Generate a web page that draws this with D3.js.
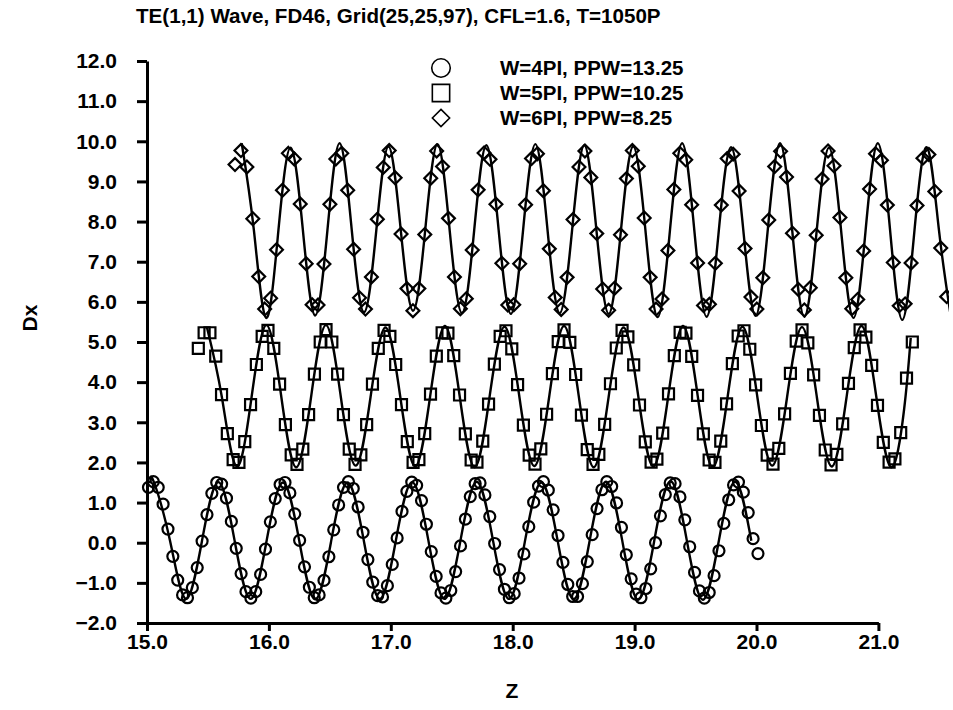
<!DOCTYPE html>
<html>
<head>
<meta charset="utf-8">
<script src="https://cdn.jsdelivr.net/npm/d3@7/dist/d3.min.js"></script>
<style>
  body { margin: 0; background: #fff; }
  text { font-family: "Liberation Sans", Arial, Helvetica, sans-serif; font-weight: bold; fill: #000; }
</style>
</head>
<body>
<svg id="chart" width="953" height="710"></svg>
<script>
// TE(1,1) wave, Dx along z for three frequencies

const titleText = 'TE(1,1) Wave, FD46, Grid(25,25,97), CFL=1.6, T=1050P';
const xTicks = [15, 16, 17, 18, 19, 20, 21];
const yTicks = [-2, -1, 0, 1, 2, 3, 4, 5, 6, 7, 8, 9, 10, 11, 12];
const seriesNames = ['W=4PI, PPW=13.25', 'W=5PI, PPW=10.25', 'W=6PI, PPW=8.25'];

// marker grids (z of first marker, z step)
const circleZ0 = 15.012, circleDz = 0.0400;
const squareZ0 = 15.421, squareDz = 0.04762;
const diamondZ0 = 15.722, diamondDz = 0.04865;

const circleDx = [
  1.38, 1.52, 1.38, 0.96, 0.34, -0.34, -0.93, -1.30, -1.37, -1.12, -0.62, 0.04, 0.70, 1.23, 1.50, 1.46,
  1.11, 0.53, -0.14, -0.77, -1.22, -1.38, -1.22, -0.79, -0.16, 0.52, 1.10, 1.45, 1.50, 1.24, 0.72, 0.06,
  -0.60, -1.11, -1.37, -1.30, -0.94, -0.35, 0.32, 0.94, 1.38, 1.52, 1.35, 0.89, 0.26, -0.42, -0.98, -1.32,
  -1.35, -1.07, -0.54, 0.12, 0.78, 1.28, 1.51, 1.43, 1.05, 0.46, -0.22, -0.84, -1.25, -1.38, -1.19, -0.72,
  -0.08, 0.59, 1.15, 1.47, 1.49, 1.19, 0.65, -0.02, -0.67, -1.16, -1.37, -1.27, -0.88, -0.28, 0.40, 1.01,
  1.41, 1.52, 1.31, 0.82, 0.18, -0.49, -1.04, -1.34, -1.34, -1.02, -0.47, 0.20, 0.85, 1.32, 1.52, 1.40,
  0.99, 0.38, -0.30, -0.90, -1.28, -1.37, -1.14, -0.65, 0.00, 0.67, 1.20, 1.49, 1.47, 1.14, 0.57, -0.10,
  -0.74, -1.20, -1.38, -1.24, -0.82, -0.20, 0.48, 1.07, 1.44, 1.51, 1.26, 0.75, 0.10, -0.27
];

const squareDx = [
  4.84, 5.23, 5.23, 4.65, 3.69, 2.72, 2.07, 2.00, 2.52, 3.44, 4.44, 5.14, 5.29, 4.84, 3.95, 2.94, 2.19,
  1.95, 2.33, 3.19, 4.20, 5.00, 5.31, 5.00, 4.20, 3.19, 2.33, 1.95, 2.19, 2.94, 3.95, 4.84, 5.29, 5.14,
  4.44, 3.44, 2.52, 2.00, 2.07, 2.72, 3.70,
  4.65, 5.23, 5.22, 4.66, 3.68, 2.71, 2.06, 2.01, 2.53, 3.45, 4.45, 5.14, 5.28, 4.83, 3.94, 2.93, 2.18,
  1.96, 2.34, 3.20, 4.21, 5.01, 5.30, 4.99, 4.19, 3.18, 2.32, 1.95, 2.20, 2.95, 3.96, 4.85, 5.29, 5.13,
  4.43, 3.43, 2.51, 2.01, 2.08, 2.73, 3.71,
  4.66, 5.24, 5.22, 4.64, 3.67, 2.71, 2.06, 2.00, 2.53, 3.46, 4.46, 5.15, 5.28, 4.82, 3.93, 2.92, 2.18,
  1.96, 2.35, 3.21, 4.22, 5.02, 5.30, 4.98, 4.18, 3.17, 2.31, 1.94, 2.20, 2.96, 3.97, 4.86, 5.30, 5.12,
  4.42, 3.42, 2.50, 2.01, 2.09, 2.74, 4.10,
  5.00
];

const diamondDx = [
  9.42, 9.77, 9.36, 8.07, 6.63, 5.82, 6.09, 7.30, 8.78, 9.70, 9.56, 8.44, 6.95, 5.93, 5.92, 6.94, 8.43,
  9.56, 9.70, 8.78, 7.31, 6.10, 5.82, 6.62, 8.06, 9.35, 9.77, 9.09, 7.69, 6.33, 5.78, 6.33, 7.68,
  9.08, 9.76, 9.37, 8.08, 6.62, 5.83, 6.08, 7.29, 8.79, 9.71, 9.55, 8.43, 6.96, 5.92, 5.93, 6.95, 8.42,
  9.57, 9.69, 8.77, 7.32, 6.11, 5.81, 6.61, 8.05, 9.36, 9.76, 9.10, 7.70, 6.32, 5.79, 6.34, 7.67,
  9.07, 9.77, 9.38, 8.09, 6.61, 5.82, 6.07, 7.28, 8.80, 9.70, 9.54, 8.42, 6.97, 5.91, 5.94, 6.96, 8.41,
  9.57, 9.68, 8.76, 7.33, 6.12, 5.82, 6.60, 8.04, 9.37, 9.75, 9.11, 7.71, 6.31, 5.80, 6.35, 7.66,
  9.06, 9.76, 9.39, 8.10, 6.60, 5.83, 6.06, 7.27, 8.81, 9.69, 9.53, 8.41, 6.98, 5.90, 5.95, 6.97, 8.40,
  9.58, 9.67, 8.75, 7.34, 6.13
];

// reference curves: [z, Dx] at crests, crossings and troughs
const circleLine = [
  [15.03, 1.50], [15.055, 1.52], [15.1875, 0.07], [15.32, -1.40], [15.4525, 0.07], [15.585, 1.51],
  [15.7175, 0.07], [15.85, -1.40], [15.9825, 0.07], [16.115, 1.50], [16.2475, 0.07], [16.38, -1.41],
  [16.5125, 0.07], [16.645, 1.50], [16.7775, 0.07], [16.91, -1.40], [17.0425, 0.07], [17.175, 1.51],
  [17.3075, 0.07], [17.44, -1.40], [17.5725, 0.07], [17.705, 1.52], [17.8375, 0.07], [17.97, -1.40],
  [18.1025, 0.07], [18.235, 1.50], [18.3675, 0.07], [18.50, -1.41], [18.6325, 0.07], [18.765, 1.52],
  [18.8975, 0.07], [19.03, -1.42], [19.1625, 0.07], [19.295, 1.53], [19.4275, 0.07], [19.56, -1.42],
  [19.6925, 0.07], [19.825, 1.52], [19.9575, 0.05]
];

const squareLine = [
  [15.492, 5.36], [15.614, 3.63], [15.736, 1.90], [15.858, 3.63], [15.980, 5.42], [16.102, 3.63],
  [16.224, 1.88], [16.346, 3.63], [16.468, 5.42], [16.590, 3.63], [16.712, 1.92], [16.834, 3.63],
  [16.956, 5.36], [17.078, 3.63], [17.200, 1.90], [17.322, 3.63], [17.444, 5.40], [17.566, 3.63],
  [17.688, 1.88], [17.810, 3.63], [17.933, 5.38], [18.055, 3.63], [18.177, 1.91], [18.299, 3.63],
  [18.421, 5.40], [18.543, 3.63], [18.665, 1.88], [18.787, 3.63], [18.909, 5.36], [19.031, 3.63],
  [19.153, 1.90], [19.275, 3.63], [19.397, 5.40], [19.519, 3.63], [19.641, 1.88], [19.763, 3.63],
  [19.885, 5.38], [20.007, 3.63], [20.129, 1.92], [20.251, 3.63], [20.373, 5.37], [20.495, 3.63],
  [20.617, 1.90], [20.739, 3.63], [20.861, 5.40], [20.983, 3.63], [21.105, 1.88], [21.21, 3.30],
  [21.265, 5.10]
];

const diamondLine = [
  [15.777, 9.95], [15.877, 7.78], [15.978, 5.60], [16.078, 7.78], [16.178, 9.84], [16.279, 7.78],
  [16.379, 5.66], [16.480, 7.78], [16.580, 9.95], [16.680, 7.78], [16.781, 5.74], [16.881, 7.78],
  [16.981, 9.87], [17.082, 7.78], [17.182, 5.78], [17.282, 7.78], [17.383, 9.93], [17.483, 7.78],
  [17.584, 5.72], [17.684, 7.78], [17.784, 9.90], [17.885, 7.78], [17.985, 5.70], [18.085, 7.78],
  [18.186, 9.93], [18.286, 7.78], [18.386, 5.72], [18.487, 7.78], [18.587, 9.90], [18.687, 7.78],
  [18.788, 5.70], [18.888, 7.78], [18.988, 9.87], [19.089, 7.78], [19.189, 5.62], [19.290, 7.78],
  [19.390, 9.95], [19.490, 7.78], [19.591, 5.63], [19.691, 7.78], [19.791, 9.85], [19.892, 7.78],
  [19.992, 5.65], [20.092, 7.78], [20.193, 9.95], [20.293, 7.78], [20.393, 5.63], [20.494, 7.78],
  [20.594, 9.84], [20.694, 7.78], [20.795, 5.60], [20.895, 7.78], [20.995, 9.95], [21.096, 7.78],
  [21.196, 5.55], [21.296, 7.78], [21.397, 9.85], [21.497, 7.78], [21.597, 5.58]
];

const svg = d3.select('#chart');

const xScale = d3.scaleLinear().domain([15, 21]).range([147, 878.4]);
const yScale = d3.scaleLinear().domain([-2, 12]).range([623, 61]);

// clip at the right edge of the frame
svg.append('clipPath').attr('id', 'plotClip')
   .append('rect').attr('x', 0).attr('y', 0).attr('width', 949).attr('height', 710);

// title
svg.append('text')
   .attr('x', 136).attr('y', 23)
   .style('font-size', '20.6px')
   .text(titleText);

// axes
let xAxis = d3.axisBottom(xScale)
              .tickValues(xTicks)
              .tickSize(8)
              .tickSizeOuter(0)
              .tickPadding(3)
              .tickFormat(d3.format('.1f'));

let yAxis = d3.axisLeft(yScale)
              .tickValues(yTicks)
              .tickSize(10)
              .tickSizeOuter(0)
              .tickPadding(20)
              .tickFormat(d3.format('.1f'));

const gx = svg.append('g')
   .attr('transform', `translate(0, ${yScale(-2)})`)
   .call(xAxis);

const gy = svg.append('g')
   .attr('transform', `translate(${xScale(15)}, 0)`)
   .call(yAxis);

[gx, gy].forEach(g => {
  g.attr('font-family', null).attr('font-size', null);
  g.select('.domain').attr('stroke', '#000').attr('stroke-width', 3);
  g.selectAll('.tick line').attr('stroke', '#000').attr('stroke-width', 3);
  g.selectAll('.tick text').style('font-size', '21px');
});

// axis titles
svg.append('text')
   .attr('x', 512).attr('y', 698)
   .attr('text-anchor', 'middle')
   .style('font-size', '21px')
   .text('Z');

svg.append('text')
   .attr('transform', 'translate(37, 318) rotate(-90)')
   .attr('text-anchor', 'middle')
   .style('font-size', '21px')
   .text('Dx');

// plot layer
const plot = svg.append('g').attr('clip-path', 'url(#plotClip)');

const line = d3.line()
               .x(d => xScale(d[0]))
               .y(d => yScale(d[1]))
               .curve(d3.curveNatural);

[circleLine, squareLine, diamondLine].forEach(pts => {
  plot.append('path')
      .datum(pts)
      .attr('d', line)
      .attr('fill', 'none')
      .attr('stroke', '#000')
      .attr('stroke-width', 2.4);
});

const symCircle = d3.symbol().type(d3.symbolCircle);
const symSquare = d3.symbol().type(d3.symbolSquare);
const symDiamond = d3.symbol().type(d3.symbolDiamond2);

function drawMarkers(values, z0, dz, gen, size) {
  plot.append('g')
      .selectAll('path')
      .data(values)
      .join('path')
      .attr('transform', (d, i) => `translate(${xScale(z0 + i * dz)}, ${yScale(d)})`)
      .attr('d', gen.size(size)())
      .attr('fill', 'none')
      .attr('stroke', '#000')
      .attr('stroke-width', 2.2);
}

drawMarkers(circleDx, circleZ0, circleDz, symCircle, 95);
drawMarkers(squareDx, squareZ0, squareDz, symSquare, 121);
drawMarkers(diamondDx, diamondZ0, diamondDz, symDiamond, 105);

// legend
const legendY = [68, 93, 118];
const legendGens = [symCircle.size(270), symSquare.size(300), symDiamond.size(190)];
seriesNames.forEach((name, i) => {
  svg.append('path')
     .attr('transform', `translate(441, ${legendY[i]})`)
     .attr('d', legendGens[i]())
     .attr('fill', 'none')
     .attr('stroke', '#000')
     .attr('stroke-width', 1.6);
  svg.append('text')
     .attr('x', 500).attr('y', legendY[i] + 7)
     .style('font-size', '20.5px')
     .text(name);
});
</script>
</body>
</html>
